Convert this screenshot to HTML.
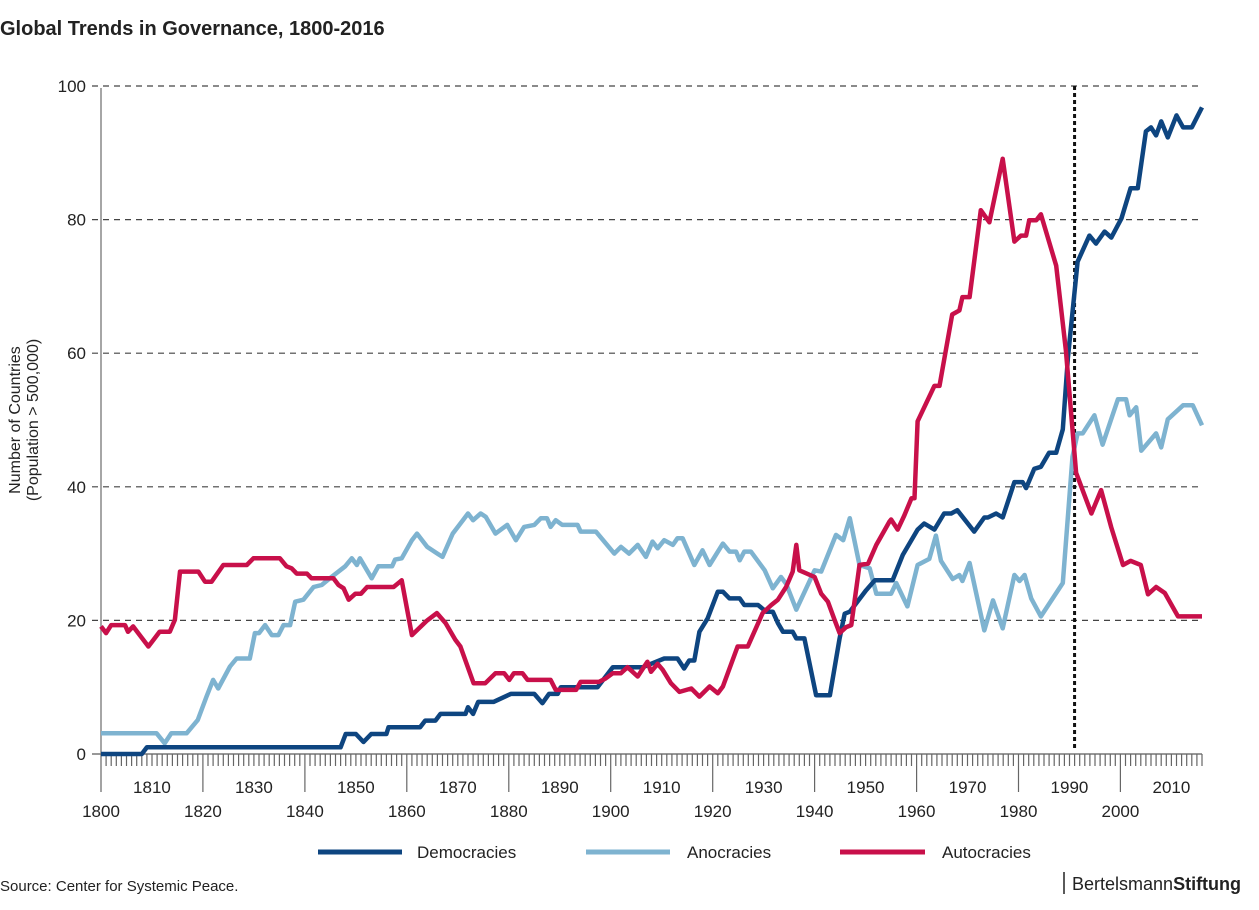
<!DOCTYPE html>
<html><head><meta charset="utf-8"><style>
body{margin:0;background:#fff;width:1259px;height:905px;overflow:hidden;font-family:"Liberation Sans",sans-serif;}
svg text{font-family:"Liberation Sans",sans-serif;}
</style></head><body>
<svg id="chart" width="1259" height="905" xmlns="http://www.w3.org/2000/svg">
<text x="0" y="35" font-size="20" font-weight="bold" fill="#222">Global Trends in Governance, 1800-2016</text>
<g transform="translate(20,420) rotate(-90)">
<text x="0" y="0" text-anchor="middle" font-size="16" fill="#222">Number of Countries</text>
<text x="0" y="18" text-anchor="middle" font-size="16" fill="#222">(Population &gt; 500,000)</text>
</g>
<g id="grid"></g><g id="axes"></g><g id="series"></g>
<g>
<line x1="318" y1="852" x2="402" y2="852" stroke="#0e4580" stroke-width="5"/>
<text x="417" y="858" font-size="17" fill="#222">Democracies</text>
<line x1="586" y1="852" x2="670" y2="852" stroke="#7eb3d0" stroke-width="5"/>
<text x="687" y="858" font-size="17" fill="#222">Anocracies</text>
<line x1="840" y1="852" x2="925" y2="852" stroke="#c8104a" stroke-width="5"/>
<text x="942" y="858" font-size="17" fill="#222">Autocracies</text>
</g>
<text x="0" y="891" font-size="15" fill="#222">Source: Center for Systemic Peace.</text>
<line x1="1064" y1="872" x2="1064" y2="894" stroke="#222" stroke-width="1.5"/>
<text x="1072" y="890" font-size="18" fill="#222">Bertelsmann<tspan font-weight="bold">Stiftung</tspan></text>
</svg>
<script>
const yTicks=[0,20,40,60,80,100];
const xLabelYears=[1800,1810,1820,1830,1840,1850,1860,1870,1880,1890,1900,1910,1920,1930,1940,1950,1960,1970,1980,1990,2000,2010];
const markerYear=1991;
const demYears=[1800,1808,1809,1847,1848,1850,1851.5,1853,1856,1856.4,1862.6,1863.6,1865.6,1866.6,1871.5,1872,1873,1874,1876,1877,1880.4,1885,1886.6,1887.9,1889.6,1890.2,1897.4,1900.4,1906.3,1910.5,1913.1,1914.4,1915.4,1916.4,1917.4,1919,1921,1922,1923.3,1925.3,1926.2,1928.9,1930.5,1931.8,1932.8,1933.8,1935.7,1936.4,1938,1940.3,1943,1944.9,1945.9,1946.9,1950.1,1951.8,1955.3,1957.3,1960.2,1961.5,1963.5,1965.4,1966.8,1968,1971.3,1973.3,1974,1975.6,1976.9,1979.2,1980.8,1981.5,1983.1,1984.4,1986,1987.4,1988.7,1989.7,1991.6,1993.9,1995.2,1996.9,1998.2,2000.2,2002,2003.4,2005,2006,2007,2008,2009.3,2011,2012.3,2014,2016];
const demValues=[0,0,1,1,3,3,1.8,3,3,4,4,5,5,6,6,7,6,7.8,7.8,7.8,9,9,7.6,9,9,10,10,13,13,14.3,14.3,12.8,14,14,18.3,20.3,24.3,24.3,23.3,23.3,22.3,22.3,21.3,21.3,19.6,18.3,18.3,17.3,17.3,8.8,8.8,17.3,21,21.3,24.5,26,26,29.8,33.6,34.5,33.6,36,36,36.5,33.3,35.4,35.4,36,35.4,40.7,40.7,39.8,42.7,43,45.1,45.1,48.6,59.3,73.7,77.6,76.4,78.2,77.3,80.2,84.7,84.7,93.2,93.8,92.6,94.7,92.3,95.6,93.8,93.8,96.8];
const anoYears=[1800,1810.9,1812.5,1813.8,1816.8,1819,1820.7,1822,1823,1825.3,1826.6,1829.2,1830.2,1831,1832.2,1833.5,1834.8,1835.8,1837.1,1838.1,1839.7,1841.7,1843.3,1844.9,1847.9,1849.2,1850.2,1850.8,1853.1,1854.4,1857.1,1857.7,1859,1861,1862,1864,1866,1867,1869,1871,1872,1873,1874.5,1875.5,1877.4,1879.7,1881.4,1883,1885,1886.3,1887.5,1888.2,1889.2,1890.5,1893.5,1894.1,1897.1,1900.7,1902,1903.6,1905.3,1906.9,1908.2,1909.2,1910.5,1912.2,1913.1,1914.1,1916.4,1918,1919.4,1922,1923.3,1924.6,1925.3,1926.2,1927.5,1930.2,1931.8,1933.4,1934.4,1936.4,1940,1941.3,1944.2,1945.6,1946.9,1948.8,1950.8,1952.1,1955,1956,1958.2,1960.2,1962.5,1963.8,1964.8,1967.1,1968.4,1969,1970.4,1973.3,1975,1976.9,1979.2,1980.2,1981.2,1982.5,1984.4,1988.7,1990.6,1991.6,1992.6,1994.9,1996.5,1999.5,2001.1,2001.8,2003.1,2004.1,2007,2008,2009.3,2012.3,2014.2,2016];
const anoValues=[3.1,3.1,1.6,3.1,3.1,5.1,8.6,11.1,9.8,13.1,14.3,14.3,18.1,18.1,19.3,17.8,17.8,19.3,19.3,22.8,23.1,25,25.3,26.3,28.1,29.3,28.3,29.3,26.3,28.1,28.1,29.1,29.3,32,33,31,30,29.5,33,35,36,35,36,35.5,33,34.3,32,34,34.3,35.3,35.3,34,35,34.3,34.3,33.3,33.3,30,31,30,31.3,29.5,31.8,30.8,32,31.3,32.3,32.3,28.3,30.5,28.3,31.5,30.3,30.3,29,30.3,30.3,27.5,24.8,26.5,25.5,21.6,27.5,27.3,32.8,32,35.3,28.3,27.8,24,24,25.6,22.1,28.3,29.2,32.7,28.9,26.2,26.8,25.9,28.6,18.5,23,18.8,26.8,25.9,26.8,23.3,20.6,25.6,44.5,48,48,50.7,46.3,53.1,53.1,50.7,51.9,45.4,48,45.9,50.1,52.2,52.2,49.2];
const autYears=[1800,1801,1802,1804.7,1805.3,1806.3,1809.3,1811.5,1813.5,1814.5,1815.5,1819.1,1820.4,1821.7,1824,1828.6,1829.9,1835.1,1836.4,1837.4,1838.4,1840.4,1841.3,1845.6,1846.6,1847.6,1848.6,1849.9,1851,1852.2,1857.4,1859,1861,1864,1865.9,1867.6,1869.5,1870.5,1873.1,1875.4,1877.4,1879.1,1880.1,1881,1882.7,1883.7,1888.2,1889.2,1893.2,1894.1,1897.7,1899,1900.4,1902,1903.3,1905.3,1907.2,1907.9,1909.2,1910.2,1911.8,1913.5,1915.8,1917.4,1919.4,1921,1922,1924.9,1926.9,1929.8,1931.5,1932.8,1934.4,1935.7,1936.4,1937,1940,1941.3,1942.6,1943.9,1944.9,1946.2,1947.2,1948.8,1950.5,1952.1,1954.7,1955,1956.3,1957.6,1959,1959.6,1960.2,1963.5,1964.5,1967,1968.4,1969,1970.4,1972.6,1974.3,1976.9,1979.2,1980.5,1981.5,1982.1,1983.5,1984.4,1987.4,1989.3,1991.3,1994.3,1996.2,1998.2,2000.5,2002,2004,2005.4,2007,2008.7,2011.3,2016];
const autValues=[19.1,18.1,19.3,19.3,18.3,19.1,16.1,18.3,18.3,20.1,27.3,27.3,25.8,25.8,28.3,28.3,29.3,29.3,28.1,27.8,27,27,26.3,26.3,25.3,24.8,23.1,24,24,25,25,26,17.8,20,21.1,19.6,17.1,16.1,10.6,10.6,12.1,12.1,11.1,12.1,12.1,11.1,11.1,9.6,9.6,10.8,10.8,11.3,12.1,12.1,13,11.6,13.8,12.3,13.5,12.6,10.6,9.3,9.8,8.6,10.1,9.1,10.1,16.1,16.1,21.1,22.3,23.1,25,27.3,31.3,27.5,26.5,24,22.8,20.1,18.1,19,19.3,28.3,28.5,31.3,34.8,35.1,33.6,35.7,38.3,38.3,49.8,55.1,55.1,65.8,66.4,68.4,68.4,81.4,79.6,89.1,76.7,77.6,77.6,79.9,79.9,80.8,73.1,60.4,42.1,36,39.5,33.9,28.3,28.9,28.3,23.9,25,24.1,20.6,20.6];

const NS='http://www.w3.org/2000/svg';
const x0=101,x1=1202,y0=754,y1=86,yr0=1800,yr1=2016;
function xs(y){return x0+(y-yr0)*(x1-x0)/(yr1-yr0);}
function ys(v){return y0-v*(y0-y1)/100;}
function mk(tag,attrs,parent){const e=document.createElementNS(NS,tag);for(const k in attrs)e.setAttribute(k,attrs[k]);parent.appendChild(e);return e;}
const grid=document.getElementById('grid'),axes=document.getElementById('axes'),series=document.getElementById('series');
yTicks.forEach(t=>{
  if(t>0){const g=mk('line',{x1:92,x2:1202,y1:ys(t),y2:ys(t),stroke:'#444','stroke-width':1.2,'stroke-dasharray':'6,5'},grid);
  
  }
  const tx=mk('text',{x:86,y:ys(t)+6,'text-anchor':'end','font-size':17,fill:'#222'},axes);tx.textContent=t;
  
  
});
const ya=mk('line',{x1:x0,x2:x0,y1:88,y2:y0,stroke:'#888','stroke-width':1.5},axes);


const xa=mk('line',{x1:92,x2:1202,y1:y0,y2:y0,stroke:'#777','stroke-width':1.5},axes);


let tp='';
for(let y=yr0;y<=yr1;y++){const x=xs(y).toFixed(1);const L=(y%20===0)?792:766;tp+='M'+x+' '+y0+'V'+L;}
const tk=mk('path',{d:tp,stroke:'#666','stroke-width':1.2,fill:'none'},axes);


xLabelYears.forEach(yv=>{
  const up=(yv%20!==0);
  const tx=mk('text',{x:xs(yv),y:up?793:817,'text-anchor':'middle','font-size':17,fill:'#222'},axes);tx.textContent=yv;
  
  
});
const vl=mk('line',{x1:xs(markerYear),x2:xs(markerYear),y1:86,y2:748,stroke:'#111','stroke-width':3,'stroke-dasharray':'4,3'},grid);


function draw(yrs,vals,color,name){
  const d=yrs.map((y,i)=>(i?'L':'M')+xs(y).toFixed(1)+' '+ys(vals[i]).toFixed(1)).join('');
  const p=mk('path',{d:d,stroke:color,'stroke-width':4.5,fill:'none','stroke-linejoin':'round'},series);
  
  
}
draw(anoYears,anoValues,'#7eb3d0','anocracies-line');
draw(demYears,demValues,'#0e4580','democracies-line');
draw(autYears,autValues,'#c8104a','autocracies-line');
</script>
</body></html>
